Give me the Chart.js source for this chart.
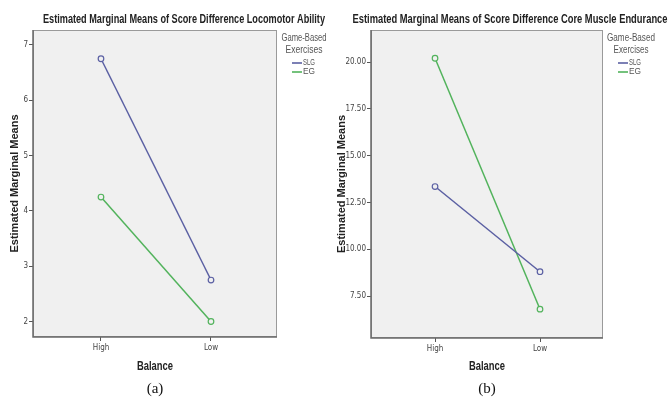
<!DOCTYPE html>
<html><head><meta charset="utf-8">
<script src="https://cdn.jsdelivr.net/npm/chart.js@4"></script>
<style>
html,body{margin:0;padding:0;background:#fff;}
#wrap{position:relative;width:669px;height:399px;overflow:hidden;}
.pane{position:absolute;top:0;height:399px;}
</style></head><body>
<div id="wrap">
<div class="pane" style="left:0;width:335px"><canvas id="cA"></canvas></div>
<div class="pane" style="left:335px;width:334px"><canvas id="cB"></canvas></div>
</div>
<script>
// ---- data ----
const categories = ['High', 'Low'];
const seriesNames = ['SLG', 'EG'];
const locomotorSLG = [6.75, 2.75];
const locomotorEG = [4.25, 2.00];
const enduranceSLG = [13.35, 8.80];
const enduranceEG = [20.20, 6.80];
const locomotorTicks = [2, 3, 4, 5, 6, 7];
const enduranceTicks = [7.5, 10, 12.5, 15, 17.5, 20];
const panelTitles = ['Estimated Marginal Means of Score Difference Locomotor Ability',
                     'Estimated Marginal Means of Score Difference Core Muscle Endurance'];
const panelLabels = ['(a)', '(b)'];
const legendTitle = ['Game-Based', 'Exercises'];
const xTitle = 'Balance';
const yTitle = 'Estimated Marginal Means';

// ---- style ----
const NARROW = "'Liberation Sans Narrow','Arial Narrow','DejaVu Sans Condensed',sans-serif";
const SANS = "'Liberation Sans',Arial,sans-serif";
const colSLG = '#5b60a3';
const colEG = '#52b35c';

function drawSquished(ctx, text, cx, cy, font, targetW, color, align) {
  ctx.save();
  ctx.font = font;
  const w = ctx.measureText(text).width;
  const s = targetW ? Math.min(1, targetW / w) : 1;
  ctx.translate(cx, cy);
  ctx.scale(s, 1);
  ctx.fillStyle = color;
  ctx.textAlign = align || 'center';
  ctx.textBaseline = 'middle';
  ctx.fillText(text, 0, 0);
  ctx.restore();
}

const decor = {
  id: 'decor',
  beforeDatasetsDraw(chart, args, o) {
    const {ctx, chartArea: a} = chart;
    ctx.save();
    ctx.fillStyle = '#f0f0f0';
    ctx.fillRect(a.left, a.top, a.right - a.left, a.bottom - a.top);
    ctx.strokeStyle = '#9a9a9a';
    ctx.lineWidth = 1;
    ctx.strokeRect(a.left + 0.5, a.top + 0.5, a.right - a.left - 1, a.bottom - a.top - 1);
    ctx.strokeStyle = '#6a6a6a';
    ctx.lineWidth = 1.5;
    ctx.beginPath();
    ctx.moveTo(a.left, a.top);
    ctx.lineTo(a.left, a.bottom);
    ctx.lineTo(a.right, a.bottom);
    ctx.stroke();
    ctx.restore();
  },
  afterDraw(chart, args, o) {
    const {ctx, chartArea: a} = chart;
    const cx = (a.left + a.right) / 2;
    // title
    drawSquished(ctx, o.title, o.titleX, 20, 'bold 12.5px ' + SANS, o.titleW, '#222');
    // x axis title
    drawSquished(ctx, o.xTitle, cx, 367, 'bold 12px ' + SANS, 36, '#222');
    // legend
    const hx = a.right + o.legDx;
    drawSquished(ctx, legendTitle[0], hx, 38, '10.5px ' + SANS, o.legW[0], '#555');
    drawSquished(ctx, legendTitle[1], hx, 50, '10.5px ' + SANS, o.legW[1], '#555');
    chart.data.datasets.forEach((ds, i) => {
      const y = 63 + i * 9;
      ctx.save();
      ctx.strokeStyle = ds.borderColor;
      ctx.lineWidth = 1.6;
      ctx.beginPath();
      ctx.moveTo(a.right + 15, y);
      ctx.lineTo(a.right + 25, y);
      ctx.stroke();
      ctx.restore();
      drawSquished(ctx, ds.label, a.right + 26, y, '8.5px ' + SANS, 12, '#555', 'left');
    });
    // panel label
    ctx.save();
    ctx.fillStyle = '#111';
    ctx.font = "15px 'Liberation Serif','Times New Roman',serif";
    ctx.textAlign = 'center';
    ctx.textBaseline = 'middle';
    ctx.fillText(o.label, cx, 389);
    ctx.restore();
  }
};

function makePanel(id, slg, eg, ticks, dec, yMin, yMax, xMin, xMax, yW, xH, padR, yTitlePad, title, titleX, titleW, label, legDx, legW) {
  const mk = (name, vals, col) => ({
    label: name,
    data: vals.map((v, i) => ({x: i, y: v})),
    borderColor: col,
    backgroundColor: col,
    borderWidth: 1.5,
    pointRadius: 2.8,
    pointBorderWidth: 1.2,
    pointBackgroundColor: 'rgba(240,240,240,1)',
    pointBorderColor: col,
    tension: 0
  });
  return new Chart(document.getElementById(id), {
    type: 'line',
    data: {datasets: [mk(seriesNames[0], slg, colSLG), mk(seriesNames[1], eg, colEG)]},
    options: {
      responsive: true,
      maintainAspectRatio: false,
      animation: false,
      layout: {padding: {left: 0, top: 30, right: padR, bottom: 0}},
      plugins: {
        legend: {display: false},
        tooltip: {enabled: false},
        decor: {title, titleX, titleW, label, xTitle, legDx, legW}
      },
      scales: {
        x: {
          type: 'linear', min: xMin, max: xMax,
          afterBuildTicks: s => { s.ticks = categories.map((c, i) => ({value: i})); },
          afterFit: s => { s.height = xH; },
          ticks: {
            callback: v => categories[Math.round(v)],
            font: {family: NARROW, size: 8}, color: '#444', padding: 2, maxRotation: 0
          },
          grid: {drawOnChartArea: false, drawTicks: true, tickLength: 4, color: '#555'},
          border: {display: false},
          title: {display: false}
        },
        y: {
          type: 'linear', min: yMin, max: yMax,
          afterBuildTicks: s => { s.ticks = ticks.map(v => ({value: v})); },
          afterFit: s => { s.width = yW; },
          ticks: {
            callback: v => Number(v).toFixed(dec),
            font: {family: NARROW, size: 8}, color: '#444', padding: 1
          },
          grid: {drawOnChartArea: false, drawTicks: true, tickLength: 4, color: '#555'},
          border: {display: false},
          title: {display: true, text: yTitle, font: {family: SANS, size: 11, weight: 'bold'}, color: '#222',
                  padding: {top: yTitlePad, bottom: 0}}
        }
      }
    },
    plugins: [decor]
  });
}

makePanel('cA', locomotorSLG, locomotorEG, locomotorTicks, 0, 1.72, 7.27, -0.618, 1.600,
          33, 62, 58, 8.4, panelTitles[0], 184, 282, panelLabels[0], 27, [45, 37]);
makePanel('cB', enduranceSLG, enduranceEG, enduranceTicks, 2, 5.26, 21.71, -0.610, 1.600,
          36, 61, 66, 0.0, panelTitles[1], 175, 315, panelLabels[1], 28, [48, 35]);
</script>
</body></html>
